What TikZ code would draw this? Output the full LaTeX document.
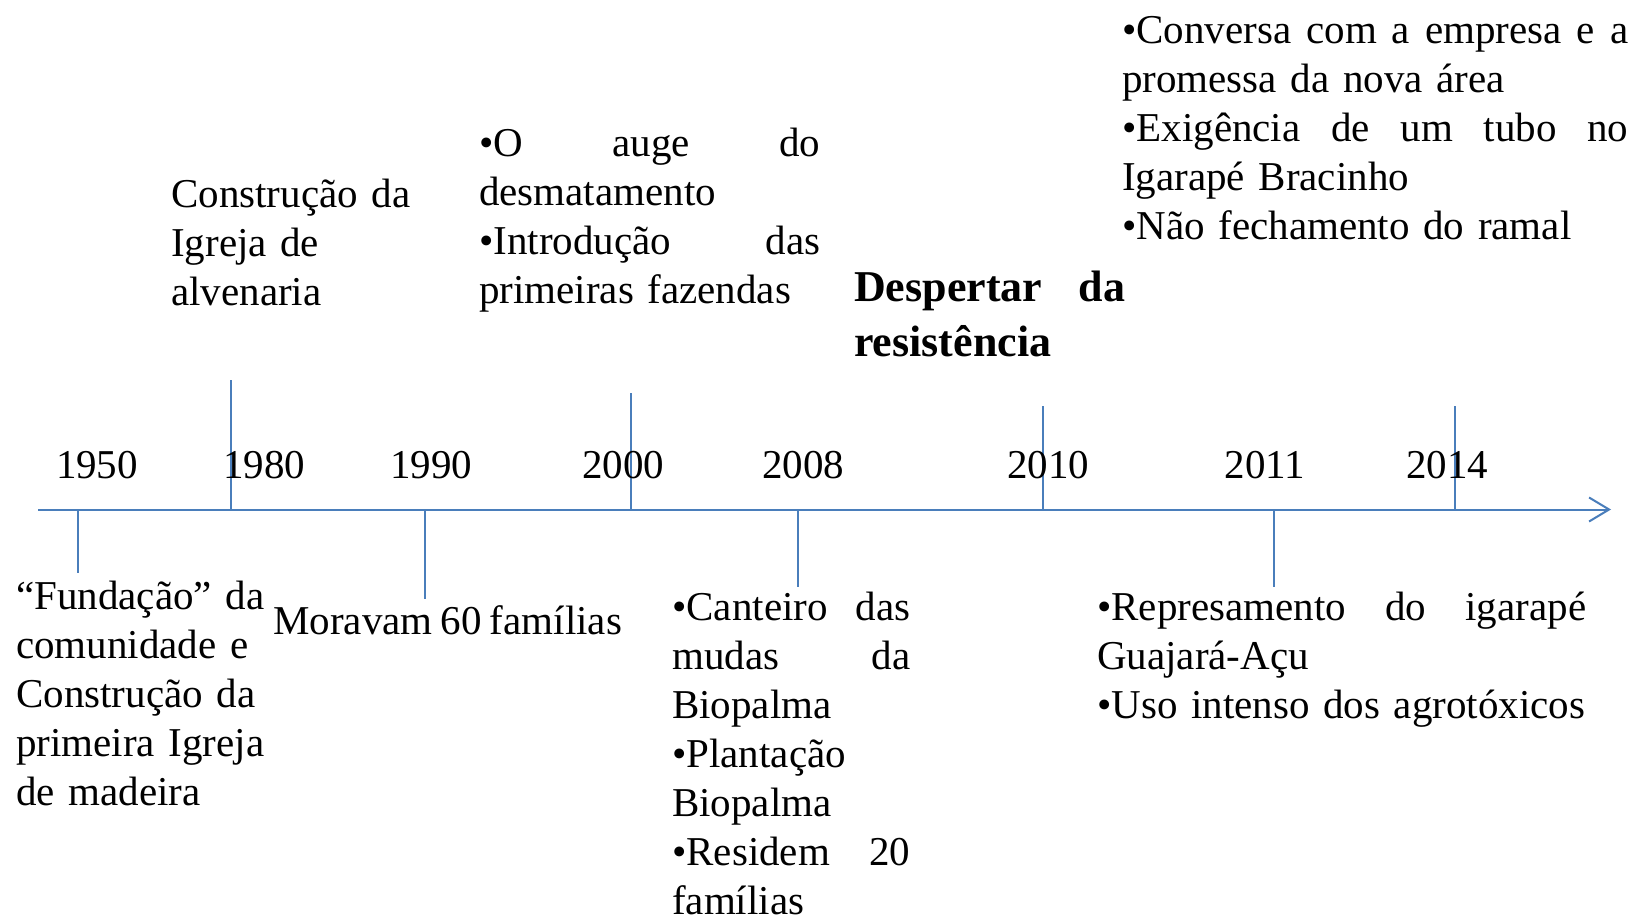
\documentclass[tikz,border=0pt]{standalone}
\usepackage{fontspec}
\setmainfont{Liberation Serif}
\usetikzlibrary{arrows.meta}
\definecolor{axisblue}{RGB}{74,126,187}
\hyphenpenalty=10000
\exhyphenpenalty=10000
\newcommand\notefont{\fontsize{41}{49}\selectfont\spaceskip=0.2em plus 0.1em\relax}
\tikzset{
  axisline/.style={draw=axisblue,line width=2pt},
  year/.style={inner sep=0pt,anchor=base},
  note/.style={inner sep=0pt,anchor=base west,align=left},
}
\begin{document}
\begin{tikzpicture}[x=1pt,y=-1pt,font=\notefont]
\useasboundingbox (0,0) rectangle (1634,917);
% time axis
\coordinate (start) at (38,509.5);
\coordinate (end) at (1611,509.5);
\draw[axisline,-{Straight Barb[length=20pt,width=24pt]}] (start)--(end);
\foreach \n/\x/\e in {a/78/573,b/231/380,c/425/599,d/631/393,e/798/587,f/1043/406,g/1274/587,h/1455/406}{
\coordinate (t\n) at (\x,509.5);
\coordinate (e\n) at (\x,\e);
\draw[axisline] (t\n)--(e\n);
}
\foreach \y/\x in {1950/97,1980/264,1990/431,2000/623,2008/803,2010/1048,2011/1265,2014/1447}
\node[year] (y\y) at (\x,478) {\y};
% above the axis
\node[note,text width=270pt] (igreja) at (171,208) {Construção da\\Igreja de\\alvenaria};
\node[note,text width=341pt] (auge) at (479,157) {•O\hfill auge\hfill do\\desmatamento\\•Introdução\hfill das\\primeiras fazendas};
\node[note,text width=271pt,font=\fontsize{44}{55}\selectfont\bfseries] (despertar) at (854,302) {Despertar\hfill da\\resistência};
\node[note,text width=506pt] (conversa) at (1122,44) {•Conversa\hfill com\hfill a\hfill empresa\hfill e\hfill a\\promessa da nova área\\•Exigência\hfill de\hfill um\hfill tubo\hfill no\\Igarapé Bracinho\\•Não fechamento do ramal};
% below the axis
\node[note,text width=260pt] (fundacao) at (16,609) {“Fundação” da\\comunidade e\\Construção da\\primeira Igreja\\de madeira};
\node[note] (moravam) at (273,634) {Moravam 60 famílias};
\node[note,text width=238pt] (canteiro) at (672,620) {•Canteiro\hfill das\\mudas\hfill da\\Biopalma\\•Plantação\\Biopalma\\•Residem\hfill 20\\famílias};
\node[note,text width=489pt] (represa) at (1097,620) {•Represamento\hfill do\hfill igarapé\\Guajará-Açu\\•Uso intenso dos agrotóxicos};
\end{tikzpicture}
\end{document}
